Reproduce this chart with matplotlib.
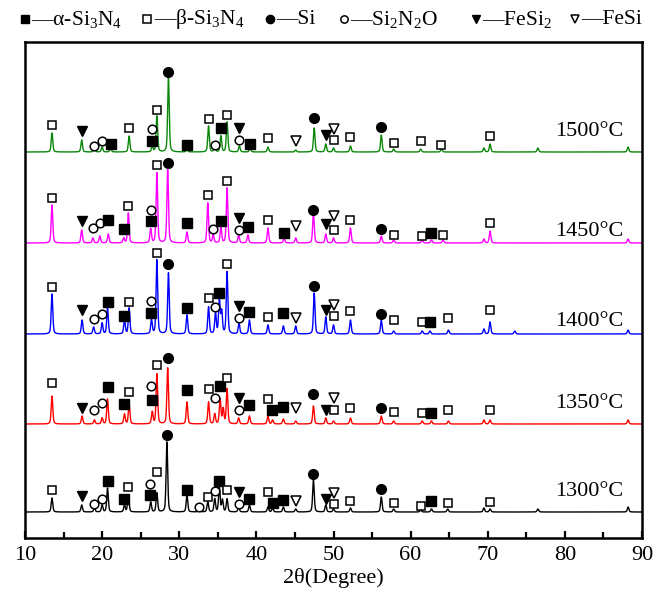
import numpy as np
import matplotlib
matplotlib.use("Agg")
import matplotlib.pyplot as plt
from matplotlib.lines import Line2D

plt.rcParams['font.family'] = ['Liberation Serif', 'DejaVu Serif']
plt.rcParams['mathtext.fontset'] = 'custom'
plt.rcParams['mathtext.rm'] = 'Liberation Serif'
plt.rcParams['mathtext.it'] = 'Liberation Serif:italic'

# ---------------- data ----------------
samples = ['1300°C', '1350°C', '1400°C', '1450°C', '1500°C']
colors = ['#000000', '#ff0000', '#0000ff', '#ff00ff', '#0a870a']
offsets = [26, 114, 204, 295, 386]

# peak positions (2theta) and heights per sample
peaks_1300_pos = [13.5, 17.35, 19.0, 20.0, 20.7, 22.9, 23.4, 26.3, 27.1, 28.4, 31.0, 32.6, 33.7, 34.6, 35.2, 35.6, 36.2,
                  37.7, 39.1, 41.5, 42.1, 43.5, 45.1, 47.4, 49.0, 50.0, 52.2, 56.2, 57.8, 61.3, 62.7, 64.8, 69.5, 70.3, 76.5, 88.2]
peaks_1300_h = [14, 7, 4, 7, 24, 7, 17, 10, 19, 70, 17, 3, 10, 13, 25, 12, 13,
                5, 7, 5, 4, 5, 3, 32, 7, 3, 4, 15, 3, 2, 3, 3, 4, 3, 3, 5]

peaks_1350_pos = [13.5, 17.4, 19.0, 20.0, 20.7, 22.9, 23.5, 26.5, 27.1, 28.5, 31.0, 33.8, 34.6, 35.3, 35.7, 36.2,
                  37.7, 39.1, 41.5, 42.1, 43.5, 45.1, 47.4, 49.0, 50.0, 52.2, 56.2, 57.8, 61.5, 62.7, 64.9, 69.5, 70.3, 88.2]
peaks_1350_h = [28, 8, 4, 6, 25, 10, 20, 12, 50, 56, 22, 22, 10, 25, 15, 35,
                6, 8, 8, 4, 5, 3, 18, 6, 3, 6, 8, 3, 3, 3, 3, 4, 4, 4]

peaks_1400_pos = [13.5, 17.4, 18.9, 20.0, 20.7, 22.9, 23.5, 26.4, 27.1, 28.6, 31.0, 33.8, 34.7, 35.2, 35.5, 36.2,
                  37.75, 39.1, 41.5, 43.5, 45.1, 47.5, 49.0, 50.0, 52.2, 56.2, 57.8, 61.5, 62.5, 64.9, 69.5, 70.3, 73.5, 88.2]
peaks_1400_h = [40, 14, 7, 11, 26, 14, 26, 14, 74, 61, 19, 27, 21, 34, 22, 62,
                11, 14, 9, 8, 8, 41, 17, 9, 14, 14, 3, 3, 3, 4, 5, 12, 3, 4]

peaks_1450_pos = [13.5, 17.35, 18.8, 19.7, 20.8, 22.8, 23.4, 26.3, 27.1, 28.5, 31.0, 33.7, 34.4, 35.4, 36.2,
                  37.7, 38.9, 41.5, 43.6, 45.1, 47.4, 49.0, 50.0, 52.2, 56.2, 57.8, 61.5, 62.7, 64.2, 69.5, 70.3, 88.2]
peaks_1450_h = [38, 13, 5, 7, 9, 5, 30, 14, 70, 74, 11, 40, 8, 16, 55,
                8, 8, 15, 5, 5, 30, 9, 5, 15, 7, 3, 3, 3, 3, 4, 12, 4]

peaks_1500_pos = [13.5, 17.35, 19.0, 20.0, 21.1, 23.5, 26.5, 27.1, 28.6, 31.0, 33.8, 34.6, 35.4, 36.2,
                  37.8, 39.2, 41.5, 45.1, 47.5, 49.0, 50.0, 52.2, 56.2, 57.8, 61.3, 64.0, 69.5, 70.3, 76.5, 88.2]
peaks_1500_h = [19, 12, 4, 5, 4, 16, 6, 36, 74, 3, 26, 5, 16, 30,
                6, 4, 5, 2, 24, 8, 4, 6, 17, 3, 3, 3, 4, 8, 4, 5]

peak_pos = [peaks_1300_pos, peaks_1350_pos, peaks_1400_pos, peaks_1450_pos, peaks_1500_pos]
peak_h = [peaks_1300_h, peaks_1350_h, peaks_1400_h, peaks_1450_h, peaks_1500_h]

# phase markers: (phase, 2theta, height above baseline)
# A = alpha-Si3N4, B = beta-Si3N4, S = Si, O = Si2N2O, F2 = FeSi2, F = FeSi
marks_1300 = [('B', 13.5, 22), ('F2', 17.35, 16), ('O', 19.0, 8), ('O', 20.0, 13), ('A', 20.7, 31),
              ('A', 22.9, 13), ('B', 23.4, 25), ('O', 26.2, 28), ('A', 26.2, 17), ('B', 27.1, 40),
              ('S', 28.4, 77), ('A', 31.0, 22), ('O', 32.6, 5), ('B', 33.7, 15), ('O', 34.6, 21),
              ('A', 35.2, 31), ('B', 36.2, 22), ('F2', 37.7, 20), ('O', 37.7, 8), ('A', 39.1, 13),
              ('B', 41.5, 20), ('A', 42.1, 9), ('A', 43.5, 12), ('F', 45.1, 11), ('S', 47.4, 38),
              ('F2', 49.0, 13), ('F', 50.0, 19), ('B', 50.0, 8), ('B', 52.2, 11), ('S', 56.2, 23),
              ('B', 57.8, 9), ('B', 61.3, 6), ('A', 62.7, 11), ('B', 64.8, 9), ('B', 70.3, 10)]
marks_1350 = [('B', 13.5, 41), ('F2', 17.4, 16), ('O', 19.0, 14), ('O', 20.0, 21), ('A', 20.7, 37),
              ('A', 22.9, 20), ('B', 23.5, 32), ('O', 26.4, 38), ('A', 26.5, 24), ('B', 27.1, 59),
              ('S', 28.5, 66), ('A', 31.0, 34), ('B', 33.8, 35), ('O', 34.6, 26), ('A', 35.3, 38),
              ('B', 36.2, 46), ('F2', 37.7, 26), ('O', 37.8, 14), ('A', 39.1, 19), ('B', 41.5, 25),
              ('A', 42.0, 14), ('A', 43.5, 17), ('F', 45.1, 16), ('S', 47.4, 30), ('F2', 49.0, 14),
              ('F', 50.0, 26), ('B', 50.0, 14), ('B', 52.2, 16), ('S', 56.2, 16), ('B', 57.8, 12),
              ('B', 61.5, 11), ('A', 62.7, 11), ('B', 64.9, 14), ('B', 70.3, 14)]
marks_1400 = [('B', 13.5, 47), ('F2', 17.4, 24), ('O', 18.9, 15), ('O', 20.0, 20), ('A', 20.7, 32),
              ('A', 22.9, 18), ('B', 23.5, 32), ('O', 26.4, 33), ('A', 26.4, 21), ('B', 27.1, 81),
              ('S', 28.6, 70), ('A', 31.0, 26), ('B', 33.8, 36), ('O', 34.7, 27), ('A', 35.2, 41),
              ('B', 36.2, 70), ('F2', 37.75, 28), ('O', 37.8, 16), ('A', 39.1, 22), ('B', 41.5, 17),
              ('A', 43.5, 21), ('F', 45.1, 16), ('S', 47.5, 48), ('F2', 49.0, 24), ('F', 50.0, 29),
              ('B', 50.0, 18), ('B', 52.2, 23), ('S', 56.2, 20), ('B', 57.8, 14), ('B', 61.5, 12),
              ('A', 62.5, 12), ('B', 64.9, 16), ('B', 70.3, 24)]
marks_1450 = [('B', 13.5, 45), ('F2', 17.35, 22), ('O', 18.8, 15), ('O', 19.7, 20), ('A', 20.8, 23),
              ('A', 22.8, 14), ('B', 23.4, 37), ('O', 26.3, 33), ('A', 26.3, 22), ('B', 27.1, 78),
              ('S', 28.5, 80), ('A', 31.0, 20), ('B', 33.7, 48), ('O', 34.4, 14), ('A', 35.4, 22),
              ('B', 36.2, 62), ('F2', 37.7, 25), ('O', 37.7, 13), ('A', 38.9, 16), ('B', 41.5, 23),
              ('A', 43.6, 10), ('F', 45.1, 17), ('S', 47.4, 33), ('F2', 49.0, 19), ('F', 50.0, 27),
              ('B', 50.0, 13), ('B', 52.2, 23), ('S', 56.2, 14), ('B', 57.8, 8), ('B', 61.5, 7),
              ('A', 62.7, 10), ('B', 64.2, 8), ('B', 70.3, 20)]
marks_1500 = [('B', 13.5, 27), ('F2', 17.35, 21), ('O', 19.0, 6), ('O', 20.0, 11), ('A', 21.1, 8),
              ('B', 23.5, 24), ('O', 26.5, 23), ('A', 26.5, 11), ('B', 27.1, 42), ('S', 28.6, 80),
              ('A', 31.0, 7), ('B', 33.8, 33), ('O', 34.6, 7), ('A', 35.4, 24), ('B', 36.2, 37),
              ('F2', 37.75, 24), ('O', 37.8, 12), ('A', 39.2, 8), ('B', 41.5, 14), ('F', 45.1, 11),
              ('S', 47.5, 34), ('F2', 49.0, 17), ('F', 50.0, 23), ('B', 50.0, 12), ('B', 52.2, 15),
              ('S', 56.2, 25), ('B', 57.8, 9), ('B', 61.3, 11), ('B', 64.0, 7), ('B', 70.3, 16)]
marks = [marks_1300, marks_1350, marks_1400, marks_1450, marks_1500]

x_ticks = [10, 20, 30, 40, 50, 60, 70, 80, 90]

phase_style = {
    'A': dict(marker='s', ms=6.6, mfc='black', mec='black', mew=1.0),
    'B': dict(marker='s', ms=6.0, mfc='white', mec='black', mew=1.1),
    'S': dict(marker='o', ms=7.0, mfc='black', mec='black', mew=1.0),
    'O': dict(marker='o', ms=6.2, mfc='white', mec='black', mew=1.1),
    'F2': dict(marker='v', ms=7.6, mfc='black', mec='black', mew=1.0),
    'F': dict(marker='v', ms=7.0, mfc='white', mec='black', mew=1.1),
}

# ---------------- figure ----------------
fig = plt.figure(figsize=(6.54, 5.95), dpi=100)
ax = fig.add_axes([25 / 654, 1 - 538 / 595, 617 / 654, 496 / 595])

x = np.arange(10, 90.001, 0.02)
fwhm = 0.24
for i in range(len(samples)):
    y = np.full_like(x, offsets[i], dtype=float)
    for p, h in zip(peak_pos[i], peak_h[i]):
        g = np.exp(-4 * np.log(2) * (x - p) ** 2 / fwhm ** 2)
        l = 1 / (1 + 4 * (x - p) ** 2 / fwhm ** 2)
        y += h * (0.6 * g + 0.4 * l)
    ax.plot(x, y, color=colors[i], lw=1.0)
    for ph, p, h in marks[i]:
        ax.plot([p], [offsets[i] + h], linestyle='none', **phase_style[ph], zorder=5)

label_y = [46, 135, 216, 306, 406]
for i, s in enumerate(samples):
    ax.text(78.7, label_y[i], s, fontsize=16, ha='left', va='center')

ax.set_xlim(10, 90)
ax.set_ylim(0, 496)
ax.set_yticks([])
ax.set_xticks(x_ticks)
ax.set_xticks(np.arange(15, 90, 10), minor=True)
ax.tick_params(axis='x', which='major', direction='in', length=5, width=1.6, labelsize=16, pad=6)
ax.tick_params(axis='x', which='minor', direction='in', length=4, width=1.6)
for sp in ax.spines.values():
    sp.set_linewidth(1.8)
ax.set_xlabel('2θ(Degree)', fontsize=16, labelpad=2)

# ---------------- legend row ----------------
leg_items = [('A', 25, '—α-Si$_3$N$_4$', 31), ('B', 147, '—β-Si$_3$N$_4$', 154),
             ('S', 270, '—Si', 276), ('O', 344, '—Si$_2$N$_2$O', 350),
             ('F2', 476, '—FeSi$_2$', 482), ('F', 575, '—FeSi', 581)]
ly = 1 - 19 / 595
for ph, mx, txt, tx in leg_items:
    st = dict(phase_style[ph])
    st['ms'] = st['ms'] * 0.85
    fig.add_artist(Line2D([mx / 654], [ly], transform=fig.transFigure, linestyle='none', **st))
    fig.text(tx / 654, ly, txt, fontsize=15.5, ha='left', va='center')

fig.savefig('out.png', dpi=100)
